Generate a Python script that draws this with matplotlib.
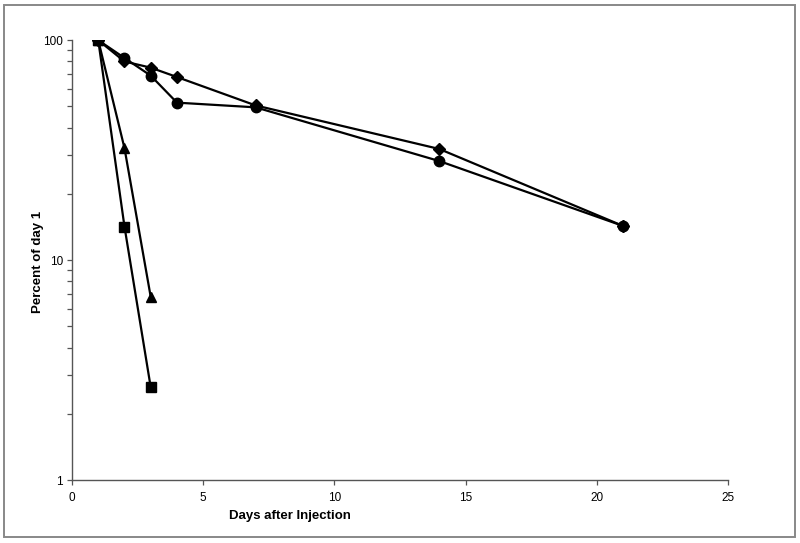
import matplotlib
matplotlib.use("Agg")
import matplotlib.pyplot as plt
from matplotlib.patches import Rectangle
from matplotlib.ticker import LogLocator, NullFormatter, FixedLocator

plt.rcParams['font.family'] = ['Liberation Sans', 'DejaVu Sans']

# percent of day 1
days_diamond = [1, 2, 3, 4, 7, 14, 21]
pct_diamond = [100, 80, 75, 68, 50.5, 32, 14.3]

days_circle = [1, 2, 3, 4, 7, 14, 21]
pct_circle = [100, 83, 69, 52, 49.5, 28.2, 14.3]

days_triangle = [1, 2, 3]
pct_triangle = [100, 32.3, 6.8]

days_square = [1, 2, 3]
pct_square = [100, 14.2, 2.64]

x_ticks = [0, 5, 10, 15, 20, 25]
y_ticks = [1, 10, 100]

fig = plt.figure(figsize=(8, 5.43), dpi=100)
ax = fig.add_axes([0.09, 0.116, 0.82, 0.81])

lw = 1.6
ax.plot(days_circle, pct_circle, color='black', lw=lw, marker='o', ms=7.5, zorder=3)
ax.plot(days_diamond, pct_diamond, color='black', lw=lw, marker='D', ms=6.5, zorder=4)
ax.plot(days_triangle, pct_triangle, color='black', lw=lw, marker='^', ms=7.5, zorder=3)
ax.plot(days_square, pct_square, color='black', lw=lw, marker='s', ms=6.5, zorder=3)

ax.set_yscale('log')
ax.set_ylim(1, 100)
ax.set_xlim(0, 25)
ax.xaxis.set_major_locator(FixedLocator(x_ticks))
ax.yaxis.set_major_locator(FixedLocator(y_ticks))
ax.set_yticklabels([str(v) for v in y_ticks])
ax.yaxis.set_minor_locator(LogLocator(base=10, subs=range(2, 10)))
ax.yaxis.set_minor_formatter(NullFormatter())

for s in ['top', 'right']:
    ax.spines[s].set_visible(False)
for s in ['left', 'bottom']:
    ax.spines[s].set_color('#555555')
    ax.spines[s].set_linewidth(1.0)

ax.tick_params(which='both', direction='out', length=3.5, width=0.9,
               color='#555555', labelsize=8.5, pad=3)
ax.tick_params(axis='x', pad=5)

fig.text(0.047, 0.518, 'Percent of day 1', rotation=90, ha='center', va='center',
         fontsize=9.5, fontweight='bold')
fig.text(0.362, 0.05, 'Days after Injection', ha='center', va='center',
         fontsize=9.5, fontweight='bold')

fig.patches.append(Rectangle((0.005, 0.011), 0.989, 0.979, transform=fig.transFigure,
                             fill=False, edgecolor='#888888', lw=1.4))

fig.savefig('out.png', dpi=100)
